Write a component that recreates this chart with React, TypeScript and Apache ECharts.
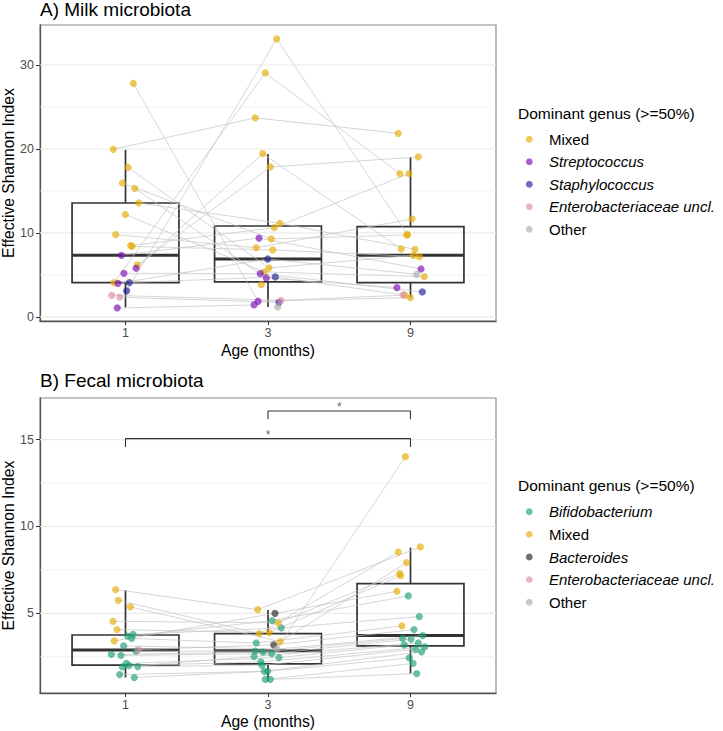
import React, { useEffect, useRef } from "react";
import * as echarts from "echarts";

const FONT = "'Liberation Sans', Arial, Helvetica, sans-serif";
const MONTH_LABELS = ["1", "3", "9"];

const GENUS_NAMES: Record<string, string> = {
  M: "Mixed",
  S: "Streptococcus",
  St: "Staphylococcus",
  E: "Enterobacteriaceae uncl.",
  O: "Other",
  B: "Bifidobacterium",
  Ba: "Bacteroides",
};
const GENUS_COLORS: Record<string, string> = {
  M: "#E6AB02",
  S: "#790BB7",
  St: "#1D1D92",
  E: "#DC8CB1",
  O: "#ABABAB",
  B: "#1B9E77",
  Ba: "#232323",
};
const ITALIC_CODES = ["S", "St", "E", "B", "Ba"];

const milkLegend = ["M", "S", "St", "E", "O"];
const fecalLegend = ["B", "M", "Ba", "E", "O"];

// Milk: one row per infant, values at 1, 3 and 9 months
const milkValues: (number | null)[][] = [
  [19.96, 23.7, 21.87],
  [27.8, 1.87, 2.3],
  [3.1, 33.1, 9.8],
  [4.08, 29.05, 17.06],
  [5.8, 19.44, 8.1],
  [6.2, 17.86, 19.05],
  [17.8, 5.83, 7.34],
  [15.95, 9.29, 9.76],
  [15.3, 4.64, 3.49],
  [13.57, 11.15, 8.06],
  [12.2, 5.36, 4.8],
  [9.8, 8.25, 11.67],
  [8.5, 10.63, 17.06],
  [8.4, 7.98, 7.18],
  [7.34, 9.4, 5.71],
  [5.2, 5.16, 2.98],
  [4.0, 6.9, 5.08],
  [4.1, 4.76, 2.62],
  [2.58, 1.98, 2.6],
  [2.35, 1.75, null],
  [1.07, 1.43, null],
  [null, 3.85, null],
  [null, 1.19, null],
];
const milkGenus: (string | null)[][] = [
  ["M", "M", "M"],
  ["M", "S", "M"],
  ["St", "M", "M"],
  ["M", "M", "M"],
  ["S", "M", "M"],
  ["M", "M", "M"],
  ["M", "M", "M"],
  ["M", "M", "M"],
  ["M", "S", "S"],
  ["M", "M", "M"],
  ["M", "M", "M"],
  ["M", "M", "M"],
  ["M", "M", "M"],
  ["M", "M", "M"],
  ["S", "S", "S"],
  ["S", "S", "St"],
  ["S", "St", "O"],
  ["St", "St", "E"],
  ["E", "E", "M"],
  ["E", "St", null],
  ["S", "S", null],
  [null, "M", null],
  [null, "O", null],
];
const milkJitter: (number | null)[][] = [
  [-0.086, -0.089, -0.086],
  [0.055, -0.07, -0.001],
  [0.008, 0.061, -0.02],
  [-0.081, -0.019, -0.074],
  [0.074, -0.037, -0.065],
  [0.083, 0.016, 0.055],
  [0.018, 0.007, 0.02],
  [-0.022, 0.023, -0.027],
  [0.065, -0.012, -0.095],
  [0.093, 0.084, 0.032],
  [-0.001, -0.026, 0.097],
  [-0.069, -0.082, 0.011],
  [0.036, 0.044, -0.011],
  [0.046, 0.033, 0.062],
  [-0.029, -0.063, 0.074],
  [-0.011, -0.054, 0.083],
  [-0.053, -0.002, 0.044],
  [0.027, 0.051, -0.051],
  [-0.097, 0.091, -0.041],
  [-0.041, 0.077, null],
  [-0.058, -0.098, null],
  [null, -0.047, null],
  [null, 0.068, null],
];
// [lower whisker, Q1, median, Q3, upper whisker] per age
const milkBox = [
  [1.15, 4.08, 7.34, 13.57, 19.9],
  [1.19, 4.17, 6.9, 10.83, 19.4],
  [2.3, 4.08, 7.34, 10.75, 19.05],
];

// Fecal
const fecalValues: (number | null)[][] = [
  [6.37, 5.21, 8.82],
  [5.75, 3.83, 8.53],
  [5.37, 3.37, 7.92],
  [4.54, 4.45, 7.29],
  [4.06, 3.89, 7.17],
  [3.41, 5.0, 6.27],
  [3.68, 4.58, 6.0],
  [3.79, 4.16, 4.81],
  [3.55, 3.29, 4.27],
  [3.12, 2.95, 14.02],
  [2.91, 3.18, 4.06],
  [2.82, 2.82, 3.72],
  [2.63, 2.76, 3.55],
  [2.57, 2.68, 3.51],
  [1.91, 2.51, 3.29],
  [2.11, 2.45, 3.18],
  [1.99, 2.2, 3.06],
  [1.93, 2.01, 2.93],
  [1.47, 1.66, 2.78],
  [1.3, 1.66, 2.43],
  [null, 1.19, 2.11],
  [null, 1.19, 1.53],
];
const fecalGenus: (string | null)[][] = [
  ["M", "M", "M"],
  ["M", "M", "M"],
  ["M", "M", "M"],
  ["M", "M", "M"],
  ["M", "M", "M"],
  ["M", "Ba", "M"],
  ["B", "B", "B"],
  ["B", "B", "B"],
  ["B", "B", "M"],
  ["B", "O", "M"],
  ["E", "Ba", "B"],
  ["B", "B", "B"],
  ["B", "B", "B"],
  ["B", "B", "B"],
  ["B", "B", "B"],
  ["B", "B", "B"],
  ["B", "B", "B"],
  ["B", "B", "B"],
  ["B", "B", "B"],
  ["B", "B", "B"],
  [null, "B", "B"],
  [null, "B", "B"],
];
const fecalJitter: (number | null)[][] = [
  [-0.069, -0.072, 0.069],
  [-0.051, -0.061, -0.086],
  [0.034, 0.086, -0.027],
  [-0.088, 0.072, -0.076],
  [-0.06, 0.009, -0.069],
  [-0.079, 0.049, -0.095],
  [0.015, 0.03, -0.015],
  [0.053, 0.093, 0.062],
  [0.044, -0.082, -0.06],
  [-0.013, 0.061, -0.036],
  [0.09, 0.04, 0.025],
  [0.074, -0.091, 0.086],
  [-0.1, -0.035, -0.055],
  [-0.032, 0.026, 0.004],
  [-0.022, -0.098, 0.055],
  [0.006, 0.077, -0.044],
  [0.025, -0.051, 0.1],
  [0.086, -0.042, 0.036],
  [-0.041, -0.026, 0.078],
  [0.062, -0.002, -0.008],
  [null, -0.019, 0.018],
  [null, 0.016, 0.044],
];
const fecalBox = [
  [1.3, 2.01, 2.89, 3.75, 6.33],
  [1.11, 2.09, 2.85, 3.83, 5.19],
  [1.53, 3.12, 3.72, 6.71, 8.78],
];
// significance brackets: [from age index, to age index, height, label]
const fecalBrackets: [number, number, number, string][] = [
  [1, 3, 15.06, "*"],
  [2, 3, 16.65, "*"],
];

const milkMajor = [0, 10, 20, 30];
const milkMinor = [5, 15, 25];
const fecalMajor = [5, 10, 15];
const fecalMinor = [2.5, 7.5, 12.5];

const POINT_OPACITY = 0.65;

function buildPanel(
  gi: number,
  values: (number | null)[][],
  genus: (string | null)[][],
  jitter: (number | null)[][],
  box: number[][],
  major: number[],
  minor: number[],
  legendCodes: string[]
) {
  const series: any[] = [];
  const gridData = [
    ...major.map((v) => [v, 1]),
    ...minor.map((v) => [v, 0]),
  ];
  series.push({
    type: "custom",
    xAxisIndex: gi,
    yAxisIndex: gi,
    silent: true,
    z: 1,
    data: gridData,
    renderItem: (_p: any, api: any) => {
      const v = api.value(0);
      const a = api.coord([0.4, v]);
      const b = api.coord([3.6, v]);
      return {
        type: "line",
        shape: { x1: a[0], y1: a[1], x2: b[0], y2: b[1] },
        style: { stroke: "#ebebeb", lineWidth: api.value(1) ? 1.2 : 0.6 },
      };
    },
  });
  series.push({
    type: "custom",
    xAxisIndex: gi,
    yAxisIndex: gi,
    silent: true,
    z: 2,
    data: box.map((b, i) => [i + 1, ...b]),
    renderItem: (_p: any, api: any) => {
      const x = api.value(0);
      const lo = api.value(1),
        q1 = api.value(2),
        md = api.value(3),
        q3 = api.value(4),
        hi = api.value(5);
      const hw = 0.375;
      const pLo = api.coord([x, lo]);
      const pQ1 = api.coord([x, q1]);
      const pQ3 = api.coord([x, q3]);
      const pHi = api.coord([x, hi]);
      const tl = api.coord([x - hw, q3]);
      const br = api.coord([x + hw, q1]);
      const ml = api.coord([x - hw, md]);
      const mr = api.coord([x + hw, md]);
      const st = { stroke: "#333333", lineWidth: 1.7 };
      return {
        type: "group",
        children: [
          { type: "line", shape: { x1: pLo[0], y1: pLo[1], x2: pQ1[0], y2: pQ1[1] }, style: st },
          { type: "line", shape: { x1: pQ3[0], y1: pQ3[1], x2: pHi[0], y2: pHi[1] }, style: st },
          {
            type: "rect",
            shape: { x: tl[0], y: tl[1], width: br[0] - tl[0], height: br[1] - tl[1] },
            style: { fill: "rgba(0,0,0,0)", stroke: "#333333", lineWidth: 1.7 },
          },
          {
            type: "line",
            shape: { x1: ml[0], y1: ml[1], x2: mr[0], y2: mr[1] },
            style: { stroke: "#333333", lineWidth: 3 },
          },
        ],
      };
    },
  });
  values.forEach((row, s) => {
    const pts: number[][] = [];
    row.forEach((v, m) => {
      if (v !== null) pts.push([m + 1 + (jitter[s][m] as number), v]);
    });
    series.push({
      type: "line",
      xAxisIndex: gi,
      yAxisIndex: gi,
      silent: true,
      z: 3,
      symbol: "none",
      data: pts,
      lineStyle: { color: "#c4c4c4", width: 0.7 },
    });
  });
  legendCodes.forEach((code) => {
    const pts: number[][] = [];
    values.forEach((row, s) => {
      row.forEach((v, m) => {
        if (v !== null && genus[s][m] === code) pts.push([m + 1 + (jitter[s][m] as number), v]);
      });
    });
    series.push({
      type: "scatter",
      name: GENUS_NAMES[code],
      xAxisIndex: gi,
      yAxisIndex: gi,
      z: 4,
      symbol: "circle",
      symbolSize: 7.2,
      data: pts,
      itemStyle: { color: GENUS_COLORS[code], opacity: POINT_OPACITY },
    });
  });
  return series;
}

function axes(gi: number, ymin: number, ymax: number, ticks: number[]) {
  const xAxis = {
    gridIndex: gi,
    type: "value",
    min: 0.4,
    max: 3.6,
    axisLine: { show: true, onZero: false, lineStyle: { color: "#555555", width: 1.3 } },
    axisTick: { show: true, customValues: [1, 2, 3], length: 4, lineStyle: { color: "#333333", width: 1 } },
    axisLabel: {
      customValues: [1, 2, 3],
      formatter: (v: number) => MONTH_LABELS[Math.round(v) - 1],
      color: "#4d4d4d",
      fontSize: 12.5,
      fontFamily: FONT,
      margin: 5,
    },
    splitLine: { show: false },
  };
  const yAxis = {
    gridIndex: gi,
    type: "value",
    min: ymin,
    max: ymax,
    axisLine: { show: true, onZero: false, lineStyle: { color: "#555555", width: 1.3 } },
    axisTick: { show: true, customValues: ticks, length: 4, lineStyle: { color: "#333333", width: 1 } },
    axisLabel: {
      customValues: ticks,
      color: "#4d4d4d",
      fontSize: 12.5,
      fontFamily: FONT,
      margin: 6,
    },
    splitLine: { show: false },
  };
  return { xAxis, yAxis };
}

function legendGraphics(codes: string[], titleY: number, firstY: number, step: number) {
  const els: any[] = [
    {
      type: "text",
      x: 518,
      y: titleY,
      style: {
        text: "Dominant genus (>=50%)",
        font: `15.5px ${FONT}`,
        fill: "#000000",
        textVerticalAlign: "middle",
        verticalAlign: "middle",
      },
    },
  ];
  codes.forEach((code, i) => {
    const y = firstY + i * step;
    els.push({
      type: "circle",
      shape: { cx: 529.3, cy: y, r: 3.4 },
      style: { fill: GENUS_COLORS[code], opacity: POINT_OPACITY },
    });
    els.push({
      type: "text",
      x: 549,
      y,
      style: {
        text: GENUS_NAMES[code],
        font: `${ITALIC_CODES.includes(code) ? "italic " : ""}15px ${FONT}`,
        fill: "#000000",
        verticalAlign: "middle",
        textVerticalAlign: "middle",
      },
    });
  });
  return els;
}

export default function App() {
  const ref = useRef<HTMLDivElement>(null);
  useEffect(() => {
    if (!ref.current) return;
    const chart = echarts.init(ref.current, undefined, { renderer: "svg" });
    const a = axes(0, -0.48, 34.76, milkMajor);
    const b = axes(1, 0.41, 17.4, fecalMajor);
    const series: any[] = [
      ...buildPanel(0, milkValues, milkGenus, milkJitter, milkBox, milkMajor, milkMinor, milkLegend),
      ...buildPanel(1, fecalValues, fecalGenus, fecalJitter, fecalBox, fecalMajor, fecalMinor, fecalLegend),
    ];
    fecalBrackets.forEach(([from, to, h, label]) => {
      const drop = 0.48;
      series.push({
        type: "line",
        xAxisIndex: 1,
        yAxisIndex: 1,
        silent: true,
        z: 5,
        symbol: "none",
        data: [
          [from, h - drop],
          [from, h],
          [to, h],
          [to, h - drop],
        ],
        lineStyle: { color: "#333333", width: 1.1 },
      });
      series.push({
        type: "scatter",
        xAxisIndex: 1,
        yAxisIndex: 1,
        silent: true,
        z: 5,
        symbolSize: 0,
        itemStyle: { color: "#333333" },
        data: [[(from + to) / 2, h]],
        label: {
          show: true,
          formatter: label,
          position: "top",
          distance: -2,
          fontSize: 12,
          fontFamily: FONT,
          color: "#333333",
        },
      });
    });
    const graphic: any[] = [
      {
        type: "text",
        x: 40,
        y: 9,
        style: { text: "A) Milk microbiota", font: `19px ${FONT}`, fill: "#000", verticalAlign: "middle", textVerticalAlign: "middle" },
      },
      {
        type: "text",
        x: 40,
        y: 380,
        style: { text: "B) Fecal microbiota", font: `19px ${FONT}`, fill: "#000", verticalAlign: "middle", textVerticalAlign: "middle" },
      },
      {
        type: "text",
        x: 8,
        y: 173,
        rotation: Math.PI / 2,
        style: { text: "Effective Shannon Index", font: `15.7px ${FONT}`, fill: "#000", align: "center", textAlign: "center", verticalAlign: "middle", textVerticalAlign: "middle" },
      },
      {
        type: "text",
        x: 8,
        y: 545.5,
        rotation: Math.PI / 2,
        style: { text: "Effective Shannon Index", font: `15.7px ${FONT}`, fill: "#000", align: "center", textAlign: "center", verticalAlign: "middle", textVerticalAlign: "middle" },
      },
      {
        type: "text",
        x: 268,
        y: 350,
        style: { text: "Age (months)", font: `15.7px ${FONT}`, fill: "#000", align: "center", textAlign: "center", verticalAlign: "middle", textVerticalAlign: "middle" },
      },
      {
        type: "text",
        x: 268,
        y: 721,
        style: { text: "Age (months)", font: `15.7px ${FONT}`, fill: "#000", align: "center", textAlign: "center", verticalAlign: "middle", textVerticalAlign: "middle" },
      },
      ...legendGraphics(milkLegend, 113.3, 139.3, 22.5),
      ...legendGraphics(fecalLegend, 485, 511.7, 22.65),
    ];
    chart.setOption({
      animation: false,
      backgroundColor: "#ffffff",
      textStyle: { fontFamily: FONT },
      grid: [
        { left: 40, top: 25, width: 456, height: 296, show: true, borderColor: "#8c8c8c", borderWidth: 1.2 },
        { left: 40, top: 398, width: 456, height: 295, show: true, borderColor: "#8c8c8c", borderWidth: 1.2 },
      ],
      xAxis: [a.xAxis, b.xAxis],
      yAxis: [a.yAxis, b.yAxis],
      series,
      graphic,
    });
    return () => chart.dispose();
  }, []);
  return (
    <div
      ref={ref}
      style={{ position: "fixed", left: 0, top: 0, width: 723, height: 731, background: "#fff" }}
    />
  );
}
